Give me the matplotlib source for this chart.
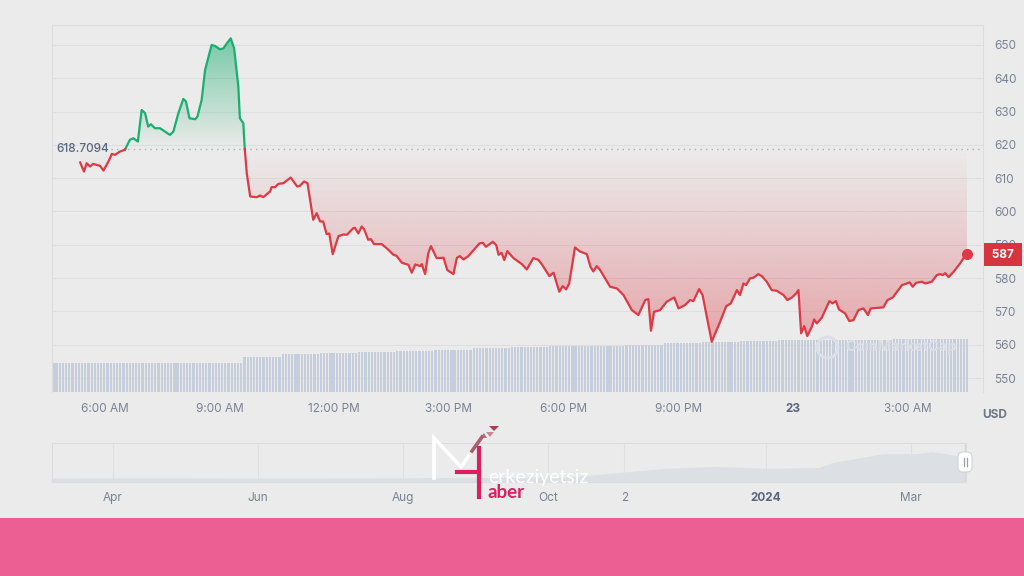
import numpy as np
import matplotlib
matplotlib.use('Agg')
import matplotlib.pyplot as plt
import matplotlib.transforms as mtransforms
from matplotlib.path import Path
from matplotlib.patches import Rectangle, FancyBboxPatch, Polygon
from matplotlib.colors import to_rgb

plt.rcParams['font.family'] = ['Inter', 'DejaVu Sans']

# price over the day (hour of day, 24 = midnight of the 23rd)
hours = [5.35, 5.45, 5.52, 5.61, 5.69, 5.87, 5.96, 6.09, 6.18, 6.26, 6.39, 6.52, 6.65, 6.74, 6.86,
         6.96, 7.05, 7.13, 7.20, 7.31, 7.44, 7.70, 7.79, 7.92, 8.05, 8.12, 8.21, 8.36, 8.42, 8.53,
         8.62, 8.79, 8.88, 9.01, 9.10, 9.19, 9.29, 9.38, 9.49, 9.53, 9.62, 9.66, 9.71, 9.80, 9.97,
         10.06, 10.14, 10.32, 10.36, 10.45, 10.54, 10.67, 10.86, 11.03, 11.10, 11.21, 11.30, 11.45,
         11.54, 11.63, 11.71, 11.80, 11.87, 11.96, 12.11, 12.24, 12.33, 12.50, 12.54, 12.63, 12.72,
         12.78, 12.89, 12.96, 13.04, 13.24, 13.37, 13.55, 13.63, 13.77, 13.94, 14.03, 14.12, 14.25,
         14.29, 14.38, 14.46, 14.53, 14.68, 14.86, 14.96, 15.12, 15.21, 15.29, 15.38, 15.51, 15.80,
         15.89, 15.97, 16.15, 16.24, 16.30, 16.38, 16.45, 16.53, 16.69, 16.91, 17.04, 17.21, 17.34,
         17.43, 17.63, 17.74, 17.89, 17.98, 18.07, 18.15, 18.30, 18.43, 18.61, 18.71, 18.78, 18.87,
         18.96, 19.22, 19.40, 19.57, 19.79, 19.96, 20.14, 20.22, 20.29, 20.37, 20.53, 20.70, 20.90,
         21.01, 21.18, 21.31, 21.40, 21.55, 21.64, 21.88, 22.10, 22.26, 22.38, 22.54, 22.62, 22.71,
         22.78, 22.88, 22.97, 23.10, 23.19, 23.32, 23.45, 23.58, 23.76, 23.86, 23.98, 24.09, 24.15,
         24.22, 24.30, 24.38, 24.50, 24.56, 24.63, 24.76, 24.96, 25.04, 25.13, 25.21, 25.37, 25.48,
         25.59, 25.72, 25.85, 25.97, 26.04, 26.37, 26.48, 26.62, 26.86, 27.06, 27.14, 27.23, 27.38,
         27.47, 27.64, 27.77, 27.86, 27.93, 27.99, 28.08, 28.21, 28.38, 28.47, 28.56]
price = [614.7, 612.0, 614.5, 613.5, 614.3, 613.7, 612.3, 615.0, 617.3, 617.0, 618.0, 618.5, 621.5, 622.0, 621.0,
         630.5, 629.5, 625.5, 626.2, 625.0, 625.0, 623.0, 624.0, 629.5, 633.8, 633.0, 628.0, 627.7, 628.5, 633.5,
         642.5, 650.0, 649.7, 648.7, 649.0, 650.5, 652.0, 649.0, 637.5, 628.0, 626.5, 618.5, 611.5, 604.5, 604.3,
         604.8, 604.3, 606.0, 607.3, 607.3, 608.3, 608.5, 610.2, 607.5, 607.7, 609.0, 608.5, 597.5,
         599.5, 597.0, 597.0, 593.2, 593.4, 587.2, 592.6, 593.1, 593.0, 595.0, 595.1, 593.4, 595.5,
         594.7, 591.5, 591.7, 590.2, 590.2, 589.0, 587.0, 586.7, 584.6, 584.0, 581.6, 584.1, 583.6,
         584.2, 581.2, 587.4, 589.6, 586.0, 586.1, 582.4, 581.2, 586.1, 586.6, 585.6, 586.6, 590.4,
         590.6, 589.4, 590.9, 589.9, 587.0, 587.6, 585.4, 588.1, 586.0, 584.2, 582.6, 586.0, 585.5,
         584.2, 580.6, 581.6, 575.9, 577.6, 576.6, 578.4, 589.2, 588.0, 587.2, 583.3, 582.0, 583.6,
         582.4, 577.4, 576.9, 574.9, 570.4, 568.9, 573.4, 573.7, 564.2, 569.9, 570.4, 572.9, 574.2,
         570.9, 571.9, 573.4, 573.1, 576.7, 574.9, 560.9, 566.9, 571.6, 572.4, 576.4, 574.9, 578.4,
         577.9, 579.9, 580.1, 581.2, 580.6, 578.9, 576.4, 576.2, 574.9, 573.4, 574.2, 575.4, 576.4,
         563.4, 565.6, 562.6, 565.4, 567.6, 566.4, 568.1, 573.1, 572.4, 573.1, 570.6, 569.4, 567.1,
         567.4, 570.4, 570.9, 568.9, 570.9, 571.2, 573.4, 574.2, 577.9, 578.7, 577.4, 578.6, 578.9,
         578.4, 578.9, 580.9, 581.2, 580.9, 581.5, 580.3, 581.9, 584.4, 586.0, 587.2]
base_price = 618.7094
last_price = 587

# volume, one level per hour (12 five-minute bars each), arbitrary units
vol_hourly = [1.45, 1.44, 1.45, 1.45, 1.43, 1.75, 1.88, 1.95, 2.0, 2.05, 2.1, 2.2,
              2.25, 2.3, 2.3, 2.35, 2.45, 2.5, 2.55, 2.6, 2.62, 2.62, 2.63, 2.63]
vol_start = 4.65

x_ticks = [6, 9, 12, 15, 18, 21, 24, 27]
x_labels = ['6:00 AM', '9:00 AM', '12:00 PM', '3:00 PM', '6:00 PM', '9:00 PM', '23', '3:00 AM']
y_ticks = [550, 560, 570, 580, 590, 600, 610, 620, 630, 640, 650]

# one year overview (months since Mar 2023)
nav_months = [0.16, 1.5, 3.0, 4.5, 6.33, 7.25, 7.71, 8.63, 9.32, 10.01, 10.74, 10.92, 11.39,
              11.61, 12.07, 12.29, 12.49, 12.71, 12.76]
nav_price = [236, 240, 236, 238, 246, 250, 292, 376, 404, 376, 390, 460, 544,
             586, 586, 614, 586, 544, 560]
nav_ticks = [1, 3, 5, 7, 8.05, 10, 12]
nav_labels = ['Apr', 'Jun', 'Aug', 'Oct', '2', '2024', 'Mar']

bg = '#ebebeb'
green = '#1aae70'
red = '#dc3a45'
gray_txt = '#7b8190'

fig = plt.figure(figsize=(10.24, 5.76), dpi=100, facecolor=bg)
ax = fig.add_axes([52/1024, 1-392/576, 931/1024, 367/576])
ax.set_facecolor(bg)
ax.set_axisbelow(True)

t = np.array(hours)
p = np.array(price)

# volume bars at the bottom, scaled on their own
vol = np.repeat(vol_hourly, 12)
vol_t = vol_start + np.arange(len(vol)) / 12
vol_top = 18.35
vol_trans = mtransforms.blended_transform_factory(
    ax.transData, mtransforms.Affine2D().scale(1, 1/vol_top) + ax.transAxes)
ax.bar(vol_t, vol, width=0.058, color='#c7cedb', transform=vol_trans, zorder=1)

# watermark
ax.plot(0.832, 0.123, 'o', ms=15, mfc='none', mec='#dce0e6', mew=2.2, transform=ax.transAxes, zorder=1.5)
ax.text(0.852, 0.123, 'CoinMarketCap', transform=ax.transAxes, fontsize=10.5, fontweight='bold',
        color='#dce0e6', va='center', ha='left', zorder=1.5)


def grad_fill(mask, color, y0, y1, a0, a1):
    coll = ax.fill_between(t, p, base_price, where=mask, interpolate=True, color='none', lw=0)
    path = Path.make_compound_path(*coll.get_paths())
    coll.remove()
    img = np.zeros((256, 1, 4))
    img[..., :3] = to_rgb(color)
    img[:, 0, 3] = np.linspace(a0, a1, 256)
    im = ax.imshow(img, extent=(t[0], t[-1], y0, y1), origin='lower', aspect='auto', zorder=2,
                   interpolation='bilinear')
    im.set_clip_path(path, ax.transData)


grad_fill(p <= base_price, red, 560, base_price, 0.4, 0.0)
grad_fill(p >= base_price, green, base_price, 652, 0.0, 0.55)

# split line at the baseline crossings
tt, pp = [t[0]], [p[0]]
for i in range(1, len(t)):
    a, b = p[i-1] - base_price, p[i] - base_price
    if a * b < 0:
        f = a / (a - b)
        tt.append(t[i-1] + f * (t[i] - t[i-1]))
        pp.append(base_price)
    tt.append(t[i])
    pp.append(p[i])
tt = np.array(tt)
pp = np.array(pp)
ax.plot(tt, np.ma.masked_where(pp < base_price, pp), color=green, lw=1.6, zorder=3)
ax.plot(tt, np.ma.masked_where(pp > base_price, pp), color=red, lw=1.6, zorder=3)
ax.plot(t[-1], p[-1], 'o', ms=7, color=red, zorder=4)

ax.axhline(base_price, xmin=0.063, color='#a9adb5', lw=1, ls=(0, (1, 3)), zorder=2.5)
ax.text(4.72, base_price, '618.7094', fontsize=8.5, color='#58667e', va='center', ha='left',
        fontweight='medium', zorder=5)

ax.set_xlim(4.613, 28.98)
ax.set_ylim(545.8, 656)
ax.yaxis.tick_right()
ax.set_yticks(y_ticks)
ax.set_xticks(x_ticks, x_labels)
ax.tick_params(axis='y', length=0, pad=8, labelsize=8.5, labelcolor=gray_txt)
ax.tick_params(axis='x', length=0, pad=8, labelsize=8.5, labelcolor=gray_txt)
ax.get_xticklabels()[6].set_fontweight('bold')
ax.get_xticklabels()[6].set_color('#58667e')
ax.grid(axis='y', color='#dfdfdf', lw=0.8)
for s in ['top', 'right', 'left']:
    ax.spines[s].set_color('#dddddd')
    ax.spines[s].set_linewidth(0.8)
ax.spines['bottom'].set_visible(False)

# last price tag on the right axis
lab_trans = mtransforms.blended_transform_factory(ax.transAxes, ax.transData)
ax.text(1.0215, last_price, ' %d ' % last_price, transform=lab_trans, fontsize=8.5, color='white',
        ha='center', va='center', fontweight='bold', clip_on=False, zorder=6,
        bbox=dict(boxstyle='square,pad=0.45', fc='#d6353f', ec='none'))

# overview navigator
nav = fig.add_axes([52/1024, 1-482/576, 914/1024, 39/576])
nav.set_facecolor(bg)
nav.fill_between(nav_months, nav_price, 180, color='#dcdfe3', lw=0)
nav.set_xlim(0.16, 12.76)
nav.set_ylim(180, 740)
nav.set_yticks([])
nav.set_xticks(nav_ticks, nav_labels)
nav.tick_params(axis='x', length=0, pad=7, labelsize=8.5, labelcolor=gray_txt)
nav.get_xticklabels()[5].set_fontweight('bold')
nav.get_xticklabels()[5].set_color('#58667e')
nav.grid(axis='x', color='#e0e0e0', lw=0.8)
nav.set_axisbelow(True)
for s in nav.spines.values():
    s.set_color('#dcdcdc')
    s.set_linewidth(0.8)
nav.axvline(12.76, color='#d3d7de', lw=2.5)

# overlay in pixel units for decoration
ov = fig.add_axes([0, 0, 1, 1], zorder=10)
ov.set_xlim(0, 1024)
ov.set_ylim(576, 0)
ov.axis('off')
ov.patch.set_visible(False)
ov.text(995, 415, 'USD', fontsize=8.5, fontweight='bold', color='#6f7684', ha='center', va='center')
ov.add_patch(FancyBboxPatch((958, 452), 14, 20, boxstyle='round,pad=0,rounding_size=5',
                            fc='white', ec='#d0d4da', lw=0.8))
ov.plot([963.5, 963.5], [458, 466], color='#9aa0ab', lw=0.9)
ov.plot([966.5, 966.5], [458, 466], color='#9aa0ab', lw=0.9)
ov.add_patch(Rectangle((0, 518), 1024, 58, color='#ec5f92', lw=0))

# site logo
pink = '#dc1f5e'
ov.plot([434, 434, 461, 472], [478, 438, 467, 451], color='white', lw=2.6, solid_joinstyle='miter')
ov.plot([472, 482], [451, 437], color='#a8606c', lw=2.6)
ov.plot([479, 479], [448, 497], color=pink, lw=3)
ov.plot([457, 479], [472, 472], color=pink, lw=3)
ov.add_patch(Polygon([[486, 432], [494, 432], [490, 437]], color='#c98894', lw=0))
ov.add_patch(Polygon([[489, 426], [499, 426], [494, 431]], color='#b23a55', lw=0))
ov.add_patch(Polygon([[480, 438], [487, 438], [484, 433]], color='#b07680', lw=0))
ov.text(488, 483, 'erkeziyetsiz', fontsize=14, color='white', family=['Lato', 'DejaVu Sans'],
        ha='left', va='baseline')
ov.text(488, 498, 'aber', fontsize=13.5, color=pink, fontweight='bold', family=['Lato', 'DejaVu Sans'],
        ha='left', va='baseline')

plt.savefig('out.png', dpi=100, facecolor=bg)
